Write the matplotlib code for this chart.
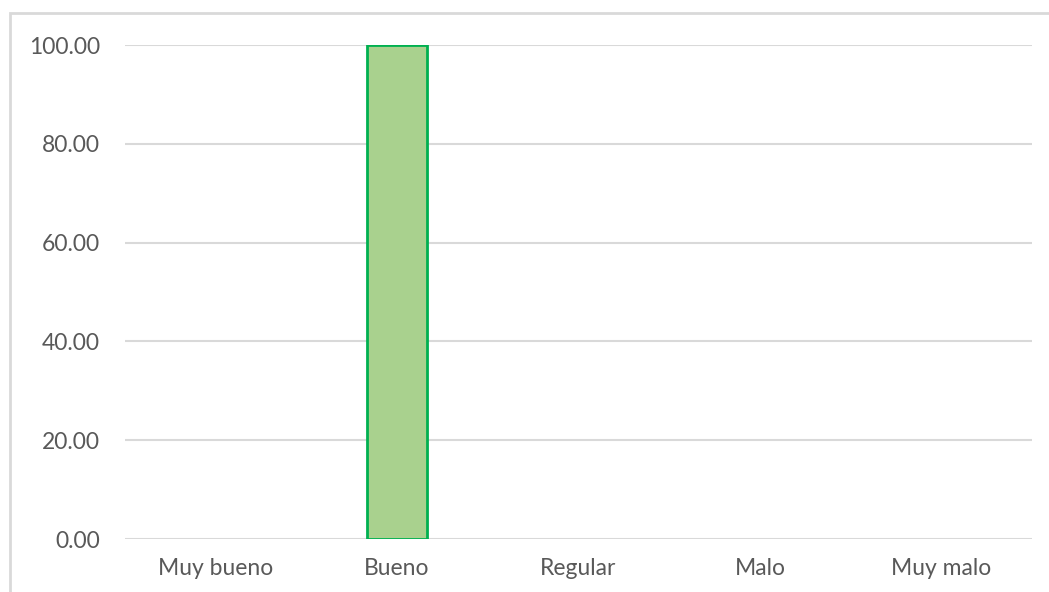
import matplotlib.pyplot as plt
from matplotlib.patches import Rectangle

categories = ["Muy bueno", "Bueno", "Regular", "Malo", "Muy malo"]
values = [0, 100, 0, 0, 0]
yticks = [0, 20, 40, 60, 80, 100]

plt.rcParams['font.family'] = ['Lato', 'DejaVu Sans']

fig = plt.figure(figsize=(10.49, 5.92), dpi=100)
ax = fig.add_axes([125 / 1049, 53 / 592, 907 / 1049, 494 / 592])

x = range(len(categories))
# no outline on empty bars, so they don't show as a green line on the axis
widths = [2 if v > 0 else 0 for v in values]
ax.bar(x, values, width=0.33, color="#A9D18E", edgecolor="#00B050", linewidth=widths, zorder=3)

ax.set_xlim(-0.5, len(categories) - 0.5)
ax.set_ylim(0, 100)
ax.set_yticks(yticks)
ax.set_yticklabels([f"{v:.2f}" for v in yticks])
ax.set_xticks(list(x))
ax.set_xticklabels(categories)
ax.tick_params(length=0, labelsize=16.5, colors="#595959")
ax.tick_params(axis="y", pad=18)
ax.tick_params(axis="x", pad=14)
ax.grid(axis="y", color="#D9D9D9", linewidth=1.5, zorder=0)
for s in ax.spines.values():
    s.set_visible(False)

# chart border
fig.patches.append(Rectangle((10 / 1049, -0.1), 1.2, 1 - 13 / 592 + 0.1,
                             transform=fig.transFigure, fill=False,
                             edgecolor="#D9D9D9", linewidth=2))

fig.savefig("out.png", dpi=100)
